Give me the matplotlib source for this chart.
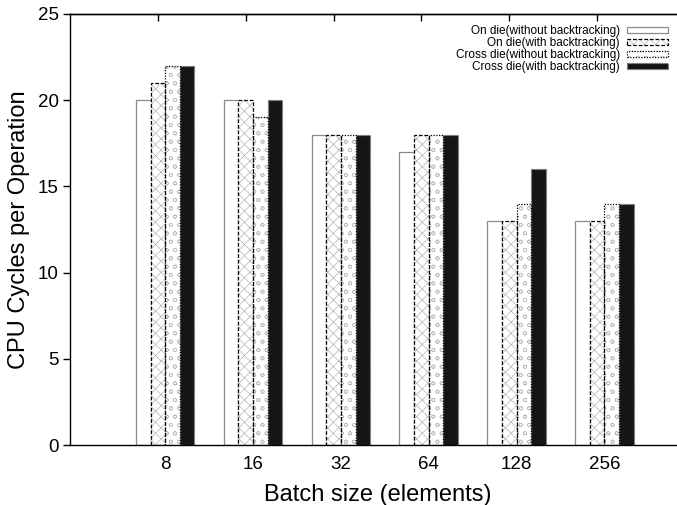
import numpy as np
import matplotlib.pyplot as plt
from matplotlib.patches import Patch

plt.rcParams['font.family'] = ['Liberation Sans', 'DejaVu Sans']
plt.rcParams['hatch.linewidth'] = 0.5

# Data
batch_sizes = ['8', '16', '32', '64', '128', '256']
series_names = ['On die(without backtracking)', 'On die(with backtracking)',
                'Cross die(without backtracking)', 'Cross die(with backtracking)']
on_die_no_bt = [20, 20, 18, 17, 13, 13]
on_die_bt = [21, 20, 18, 18, 13, 13]
cross_die_no_bt = [22, 19, 18, 18, 14, 14]
cross_die_bt = [22, 20, 18, 18, 16, 14]

series = [on_die_no_bt, on_die_bt, cross_die_no_bt, cross_die_bt]

# style per series: face, hatch, hatch colour, edge colour, edge style
styles = [
    ('white', None, None, '#8a8a8a', 'solid'),
    ('white', 'xxx', '#b4b4b4', 'black', (0, (3, 1.5))),
    ('white', 'oo', '#bcbcbc', 'black', (0, (1, 1.2))),
    ('#151515', None, None, '#777777', (0, (1, 1))),
]

fig = plt.figure(figsize=(6.77, 5.05), dpi=100)
ax = fig.add_axes([70 / 677, 60 / 505, 615 / 677, 431 / 505])

x = np.arange(len(batch_sizes))
width = 1 / 6

handles = []
for j, (vals, st) in enumerate(zip(series, styles)):
    face, hatch, hcol, ecol, ls = st
    pos = x + (j - 1) * width
    if hatch:
        ax.bar(pos, vals, width, color=face, hatch=hatch, edgecolor=hcol,
               linewidth=0, zorder=2)
        ax.bar(pos, vals, width, fill=False, edgecolor=ecol, linewidth=0.9,
               linestyle=ls, zorder=3)
        h = (Patch(facecolor=face, hatch=hatch, edgecolor=hcol, linewidth=0),
             Patch(fill=False, edgecolor=ecol, linewidth=0.9, linestyle=ls))
    else:
        ax.bar(pos, vals, width, color=face, edgecolor=ecol, linewidth=0.9,
               linestyle=ls, zorder=2)
        h = Patch(facecolor=face, edgecolor=ecol, linewidth=0.9, linestyle=ls)
    handles.append(h)

ax.set_xlim(-1, 6)
ax.set_ylim(0, 25)
ax.set_yticks([0, 5, 10, 15, 20, 25])
ax.set_xticks(x + width / 2)
ax.set_xticklabels(batch_sizes)
ax.tick_params(axis='x', length=0, labelsize=13.5, pad=8)
ax.tick_params(axis='y', direction='out', length=5, width=1, labelsize=13.5, pad=3)

top = ax.secondary_xaxis('top')
top.set_xticks(x)
top.set_xticklabels([])
top.tick_params(direction='in', length=5, width=1)

for s in ['left', 'bottom', 'top']:
    ax.spines[s].set_linewidth(1.0)
top.spines['top'].set_linewidth(1.0)
ax.spines['right'].set_visible(False)

ax.set_xlabel('Batch size (elements)', fontsize=17, labelpad=8)
ax.set_ylabel('CPU Cycles per Operation', fontsize=17, labelpad=6)

ax.legend(handles, series_names, loc='upper right',
          bbox_to_anchor=(603 / 615, 0.985), frameon=False, markerfirst=False,
          fontsize=8.5, handlelength=3.5, handleheight=0.5, labelspacing=0.0,
          handletextpad=0.6, borderaxespad=0)

plt.savefig('out.png', dpi=100)
